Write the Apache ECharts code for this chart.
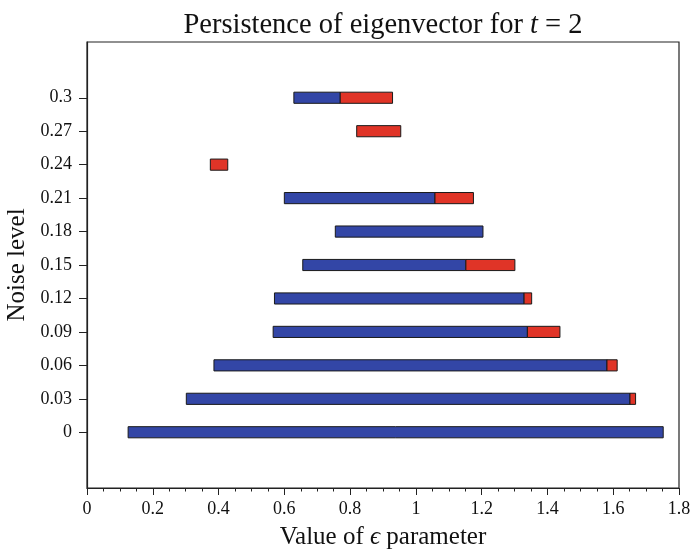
<!DOCTYPE html>
<html>
<head>
<meta charset="utf-8">
<script src="https://cdn.jsdelivr.net/npm/echarts@6/dist/echarts.min.js"></script>
<style>
  html, body { margin: 0; padding: 0; background: #fff; }
  #chart { width: 691px; height: 549px; }
</style>
</head>
<body>
<div id="chart"></div>
<script>
// noise levels (y) and the epsilon interval for each one
const noiseLevels = [0, 0.03, 0.06, 0.09, 0.12, 0.15, 0.18, 0.21, 0.24, 0.27, 0.3];
const blueStart = [0.125, 0.302, 0.386, 0.566, 0.570, 0.656, 0.755, 0.600, null, null, 0.629];
const blueEnd   = [1.752, 1.651, 1.581, 1.339, 1.329, 1.152, 1.204, 1.058, null, null, 0.770];
const redStart  = [null, 1.651, 1.581, 1.339, 1.329, 1.152, null, 1.058, 0.375, 0.820, 0.770];
const redEnd    = [null, 1.668, 1.612, 1.438, 1.352, 1.301, null, 1.175, 0.428, 0.954, 0.929];

const FONT = 'Liberation Serif';

function toSpans(starts, ends) {
  const out = [];
  noiseLevels.forEach((y, i) => {
    if (starts[i] != null && ends[i] != null) out.push([starts[i], ends[i], y]);
  });
  return out;
}

function spanRenderer(color) {
  return function (params, api) {
    const a = api.coord([api.value(0), api.value(2)]);
    const b = api.coord([api.value(1), api.value(2)]);
    const h = api.size([0, 0.01])[1];
    return {
      type: 'rect',
      shape: { x: a[0], y: a[1] - h / 2, width: b[0] - a[0], height: h },
      style: { fill: color, stroke: '#1a1a1a', lineWidth: 1 }
    };
  };
}

const chart = echarts.init(document.getElementById('chart'), null, { renderer: 'canvas' });

chart.setOption({
  backgroundColor: '#fff',
  animation: false,
  title: {
    // centred over the plot area, not the canvas
    left: 378,
    textAlign: 'center',
    top: 6,
    text: '{a|Persistence of eigenvector for }{i|t}{a| = 2}',
    textStyle: {
      fontWeight: 'normal',
      rich: {
        a: { fontFamily: FONT, fontSize: 28.5, fontWeight: 'normal', color: '#111' },
        i: { fontFamily: FONT, fontSize: 28.5, fontWeight: 'normal', fontStyle: 'italic', color: '#111' }
      }
    }
  },
  grid: {
    left: 87, right: 12, top: 42, bottom: 61,
    containLabel: false,
    outerBoundsMode: 'none',
    show: true, borderColor: '#222', borderWidth: 1.2
  },
  xAxis: {
    type: 'value',
    min: 0, max: 1.8, interval: 0.2,
    name: '{a|Value of }{i|ϵ}{a| parameter}',
    nameLocation: 'middle',
    nameGap: 37,
    nameTextStyle: {
      rich: {
        a: { fontFamily: FONT, fontSize: 25, color: '#111' },
        i: { fontFamily: FONT, fontSize: 25, fontStyle: 'italic', color: '#111' }
      }
    },
    axisLine: { show: true, onZero: false, lineStyle: { color: '#222', width: 1.2 } },
    axisTick: { show: true, length: 7, lineStyle: { color: '#222', width: 1 } },
    minorTick: { show: true, splitNumber: 4, length: 3.5, lineStyle: { color: '#222', width: 1 } },
    splitLine: { show: false },
    axisLabel: { fontFamily: FONT, fontSize: 18, color: '#111', margin: 12 }
  },
  yAxis: {
    type: 'value',
    min: -0.05, max: 0.35,
    name: 'Noise level',
    nameLocation: 'middle',
    nameGap: 56,
    nameTextStyle: { fontFamily: FONT, fontSize: 25, color: '#111' },
    axisLine: { show: true, onZero: false, lineStyle: { color: '#222', width: 1.2 } },
    axisTick: { show: true, length: 8, customValues: noiseLevels, lineStyle: { color: '#222', width: 1 } },
    splitLine: { show: false },
    axisLabel: {
      fontFamily: FONT, fontSize: 18, color: '#111', margin: 15,
      customValues: noiseLevels,
      formatter: v => String(v)
    }
  },
  series: [
    {
      name: 'persistent',
      type: 'custom',
      renderItem: spanRenderer('#3346a6'),
      encode: { x: [0, 1], y: 2 },
      data: toSpans(blueStart, blueEnd)
    },
    {
      name: 'transient',
      type: 'custom',
      renderItem: spanRenderer('#e03427'),
      encode: { x: [0, 1], y: 2 },
      data: toSpans(redStart, redEnd)
    }
  ]
});
</script>
</body>
</html>
